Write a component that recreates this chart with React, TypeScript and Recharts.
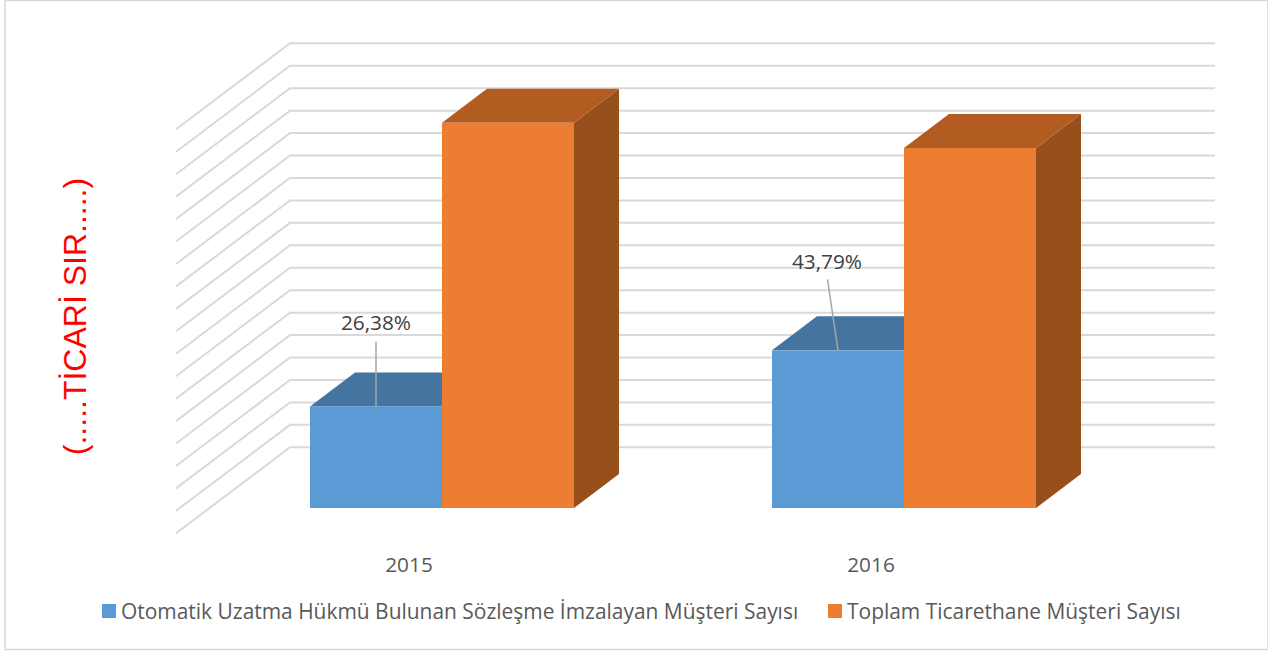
import React from "react";
import { BarChart, Bar, XAxis, YAxis, CartesianGrid, Legend, LabelList, Customized } from "recharts";

const categories = ["2015", "2016"];
const automaticValues = [4527, 7024];
const totalValues = [17160, 16040];
const percentLabels = ["26,38%", "43,79%"];
const gridTicks = [0, 1000, 2000, 3000, 4000, 5000, 6000, 7000, 8000, 9000, 10000, 11000, 12000, 13000, 14000, 15000, 16000, 17000, 18000];
const seriesNames = ["Otomatik Uzatma Hükmü Bulunan Sözleşme İmzalayan Müşteri Sayısı", "Toplam Ticarethane Müşteri Sayısı"];
const sideTitle = "(.....TİCARİ SIR.....)";

const rows = categories.map((category, i) => ({
  category,
  automatic: automaticValues[i],
  total: totalValues[i],
  label: percentLabels[i],
}));

const FONT = "'Open Sans', sans-serif";
const TEXT_SIZE = 20.8;
const LEGEND_SIZE = 20.95;
const DEPTH_X = 45;
const DEPTH_Y = 34;

const Box3D = (top: string, side: string) => (props: any) => {
  const { x, y, width, height, fill } = props;
  return (
    <g>
      <polygon
        points={`${x + width},${y} ${x + width + DEPTH_X},${y - DEPTH_Y} ${x + width + DEPTH_X},${y + height - DEPTH_Y} ${x + width},${y + height}`}
        fill={side}
      />
      <polygon
        points={`${x},${y} ${x + DEPTH_X},${y - DEPTH_Y} ${x + width + DEPTH_X},${y - DEPTH_Y} ${x + width},${y}`}
        fill={top}
      />
      <rect x={x} y={y} width={width} height={height} fill={fill} />
    </g>
  );
};

const GridLine3D = (props: any) => {
  const y = props.y1;
  const backY = y - 60.7;
  return (
    <polyline
      key={props.key ?? y}
      points={`176,${backY + 86} 290,${backY} 1215,${backY}`}
      fill="none"
      stroke="#D9D9D9"
      strokeWidth={2}
    />
  );
};

const LeaderLabel = (props: any) => {
  const { x, y, index, value } = props;
  const tipX = x + 66;
  const textX = index === 0 ? x + 66 : x + 55;
  const textY = index === 0 ? y - 84 : y - 89;
  const startX = index === 0 ? tipX : tipX - 10.5;
  const startY = index === 0 ? y - 65 : y - 71;
  return (
    <g>
      <line x1={startX} y1={startY} x2={tipX} y2={y} stroke="#A6A6A6" strokeWidth={1.5} />
      <text x={textX} y={textY} textAnchor="middle" dominantBaseline="central" fontFamily={FONT} fontSize={TEXT_SIZE} fill="#404040">
        {value}
      </text>
    </g>
  );
};

const YearTick = (props: any) => {
  const { x, y, payload } = props;
  return (
    <text x={x - 33} y={y} textAnchor="middle" dominantBaseline="central" fontFamily={FONT} fontSize={TEXT_SIZE} fill="#595959">
      {payload.value}
    </text>
  );
};

const LegendRow = (props: any) => {
  const items = props.payload ?? [];
  const lefts = [102, 828];
  return (
    <div>
      {items.map((item: any, i: number) => (
        <div key={item.value} style={{ position: "absolute", left: lefts[i], top: 0, display: "flex", alignItems: "center", whiteSpace: "nowrap" }}>
          <span style={{ width: 14, height: 14, background: item.color, marginRight: 5, display: "inline-block" }} />
          <span style={{ fontFamily: FONT, fontSize: LEGEND_SIZE, color: "#595959", lineHeight: "26px" }}>{item.value}</span>
        </div>
      ))}
    </div>
  );
};

const SideTitle = () => (
  <text
    x={75}
    y={316.5}
    transform="rotate(-90 75 316.5)"
    textAnchor="middle"
    dominantBaseline="central"
    fontFamily="'Liberation Sans', Arial, sans-serif"
    fontSize={32}
    fill="#FF0000"
  >
    {sideTitle}
  </text>
);

const Frame = () => <rect x={5} y={0.5} width={1263} height={649} fill="none" stroke="#D9D9D9" strokeWidth={1.5} />;

export default function App() {
  return (
    <div style={{ position: "absolute", left: 0, top: 0, width: 1268, height: 651, overflow: "hidden", background: "#fff" }}>
      <BarChart
        width={1268}
        height={651}
        data={rows}
        barSize={132}
        barGap={0}
        margin={{ top: 104, right: 133, bottom: 57, left: 211 }}
      >
        <Customized component={Frame} />
        <CartesianGrid vertical={false} horizontal={GridLine3D as any} />
        <XAxis dataKey="category" axisLine={false} tickLine={false} tick={YearTick} tickMargin={50} height={60} />
        <YAxis hide width={0} interval={0} domain={[0, 18000]} ticks={gridTicks} />
        <Legend
          verticalAlign="bottom"
          content={LegendRow}
          wrapperStyle={{ position: "absolute", left: 0, top: 598, bottom: "auto", width: 1268, height: 26 }}
        />
        <Bar dataKey="automatic" name={seriesNames[0]} fill="#5B9BD5" isAnimationActive={false} shape={Box3D("#4475A1", "#44759F")}>
          <LabelList dataKey="label" content={LeaderLabel} />
        </Bar>
        <Bar dataKey="total" name={seriesNames[1]} fill="#ED7D31" isAnimationActive={false} shape={Box3D("#B25C22", "#974F1C")} />
        <Customized component={SideTitle} />
      </BarChart>
    </div>
  );
}
